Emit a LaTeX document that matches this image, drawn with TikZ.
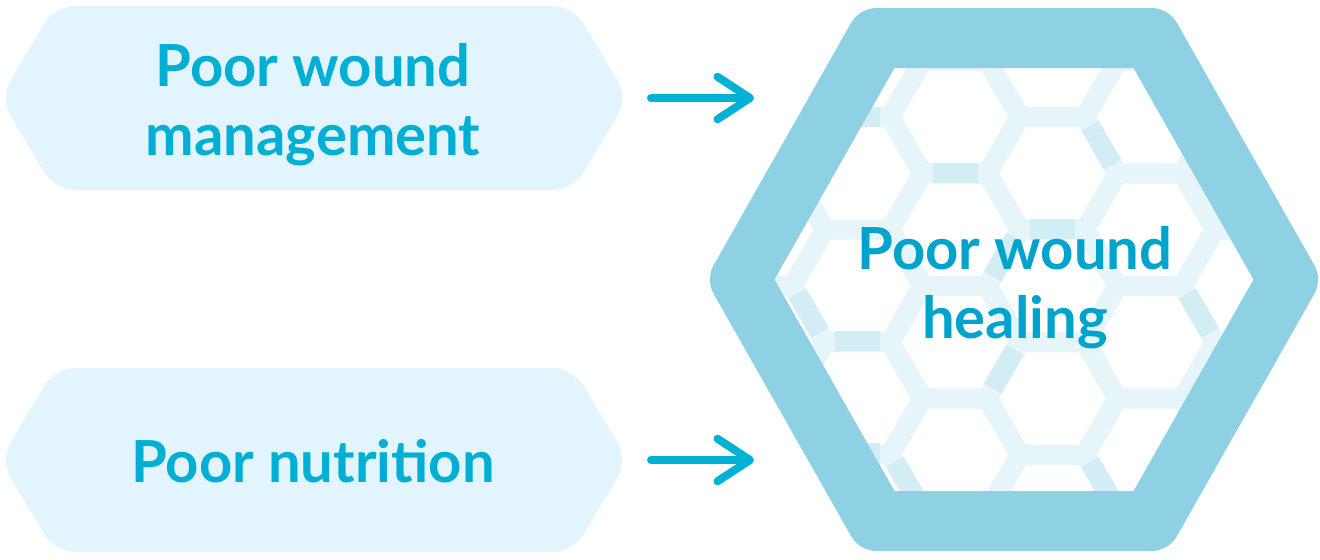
\documentclass[tikz,border=0pt]{standalone}
\usepackage{fontspec}
\setmainfont{Lato}
\usetikzlibrary{arrows.meta,positioning}

\definecolor{boxfill}{HTML}{E2F4FD}
\definecolor{boxtext}{HTML}{00AFD3}
\definecolor{hextext}{HTML}{00A3CC}
\definecolor{hexrim}{HTML}{8ED1E4}
\definecolor{combfaint}{HTML}{E6F5F9}
\definecolor{combdark}{HTML}{D2EDF4}
\definecolor{arrowcol}{HTML}{00B1D6}

\newcommand\rimpath{(740,279.5) -- (877,38) -- (1151,38) -- (1288,279.5) -- (1151,521) -- (877,521) -- cycle}

\begin{document}
\begin{tikzpicture}[x=0.02cm,y=-0.02cm,
  causebox/.style={fill=boxfill,rounded corners=0.4cm},
  bigtext/.style={font=\bfseries\fontsize{33}{39}\selectfont,align=center,inner sep=0pt,anchor=base},
  comb/.style={draw=combfaint,line width=0.4cm,line join=round},
  combedge/.style={draw=combdark,line width=0.4cm,shorten <=0.2cm,shorten >=0.2cm},
  causearrow/.style={draw=arrowcol,line width=0.16cm,line cap=round,
    -{Straight Barb[length=0.65cm,width=0.85cm,round]}}]
 \useasboundingbox (0,0) rectangle (1320,559);
 % cause boxes
 \foreach \yc in {98,460}
  \fill[causebox] (0,\yc) -- (55,\yc-92) -- (573,\yc-92) -- (628,\yc) -- (573,\yc+92) -- (55,\yc+92) -- cycle;
 \node[bigtext,text=boxtext] (mgmt) at (313,155) {Poor wound\\management};
 \node[bigtext,text=boxtext] (nutr) at (313,482) {Poor nutrition};
 % honeycomb inside the big hexagon
 \begin{scope}
  \clip \rimpath;
  \foreach \k in {-3,...,4}
   \foreach \j in {-1,...,5} {
    \pgfmathsetmacro\cx{955+97.5*\k}
    \pgfmathsetmacro\cy{117+112.6*\j-56.3*mod(abs(\k),2)}
    \draw[comb,shift={(\cx,\cy)}] (0:65) -- (60:65) -- (120:65) -- (180:65) -- (240:65) -- (300:65) -- cycle;
   }
  \foreach \a/\b in {{825,117}/{890,117}, {922.5,173}/{987.5,173}, {1085,117}/{1117.5,173},
                     {1020,229}/{1085,229}, {825,341}/{890,341}, {792.5,285}/{825,341},
                     {1020,341}/{987.5,397}, {987.5,285}/{1020,229}, {1182.5,285}/{1215,341},
                     {1085,453}/{1117.5,509}, {890,453}/{922.5,509}, {825,453}/{890,453}}
   \draw[combedge] (\a) -- (\b);
 \end{scope}
 % rim
 \draw[hexrim,line width=1.2cm,line join=round] \rimpath;
 \node[bigtext,text=hextext] (heal) at (1015,338) {Poor wound\\healing};
 % arrows
 \coordinate (mgmt-out) at (651,98);
 \coordinate (nutr-out) at (651,460);
 \coordinate (heal-in-a) at (754,98);
 \coordinate (heal-in-b) at (754,460);
 \draw[causearrow] (mgmt-out) -- (heal-in-a);
 \draw[causearrow] (nutr-out) -- (heal-in-b);
\end{tikzpicture}
\end{document}
